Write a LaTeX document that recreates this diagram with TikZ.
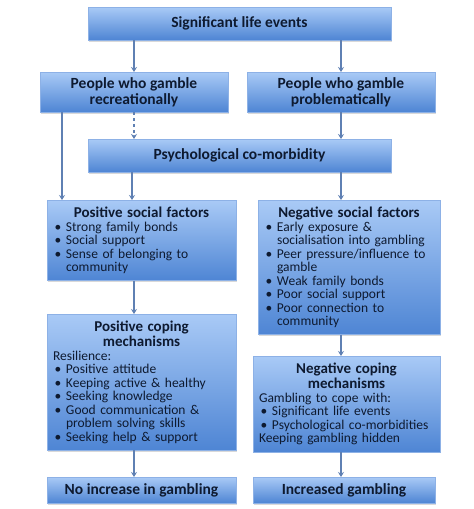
\documentclass[tikz,border=0pt]{standalone}
\usepackage{fontspec}
\setmainfont{Carlito}
\usetikzlibrary{shadows, arrows.meta, calc, positioning}
\definecolor{boxtop}{HTML}{A9CAF6}
\definecolor{boxbot}{HTML}{4E85D4}
\definecolor{boxline}{HTML}{8DB1E6}
\definecolor{arrcol}{HTML}{5F80B3}
\definecolor{ink}{HTML}{0E1A30}
\hyphenpenalty=10000
\exhyphenpenalty=10000
\newcommand*{\itm}[1]{\par\hangindent=13pt\hangafter=1\noindent\makebox[13pt][l]{\hspace{1.5pt}\textbullet}#1\par}
\newcommand*{\hd}[1]{{\centering\bfseries\fontsize{15}{15}\selectfont #1\par}}

\begin{document}
\begin{tikzpicture}[x=1pt, y=-1pt,
  box/.style={draw=boxline, line width=0.6pt, top color=boxtop, bottom color=boxbot,
    drop shadow={opacity=0.3, shadow xshift=1.2pt, shadow yshift=-1.5pt},
    text=ink, inner xsep=6pt, inner ysep=7pt, outer sep=0pt},
  titlebox/.style={box, font=\bfseries\fontsize{15.5}{16}\selectfont, align=center, inner ysep=4pt},
  listbox/.style={box, font=\fontsize{13.5}{13.5}\selectfont, align=left, anchor=north},
  arr/.style={draw=arrcol, line width=1.3pt, -{Stealth[length=5pt, width=6pt]}}]
 \useasboundingbox (0,0) rectangle (474,509);

 \node[titlebox, minimum width=303pt, minimum height=33pt] (life) at (239.5,23.5) {Significant life events};
 \node[titlebox, minimum width=188pt, minimum height=40pt] (rec) at (134,92) {People who gamble\\recreationally};
 \node[titlebox, minimum width=188pt, minimum height=40pt] (prob) at (341,92) {People who gamble\\problematically};
 \node[titlebox, minimum width=303pt, minimum height=33pt] (psych) at (239.5,155.5) {Psychological co-morbidity};

 \node[listbox, text width=177pt, minimum height=78pt] (possoc) at (141.5,200) {%
  \hd{Positive social factors}
  \itm{Strong family bonds}
  \itm{Social support}
  \itm{Sense of belonging to community}};
 \node[listbox, text width=170pt, minimum height=130pt] (negsoc) at (349,200) {%
  \hd{Negative social factors}
  \itm{Early exposure \& socialisation into gambling}
  \itm{Peer pressure/influence to gamble}
  \itm{Weak family bonds}
  \itm{Poor social support}
  \itm{Poor connection to community}};
 \node[listbox, text width=177pt, minimum height=132pt] (poscop) at (141.5,314) {%
  \hd{Positive coping\\mechanisms}
  \noindent Resilience:
  \itm{Positive attitude}
  \itm{Keeping active \& healthy}
  \itm{Seeking knowledge}
  \itm{Good communication \& problem solving skills}
  \itm{Seeking help \& support}};
 \node[listbox, text width=175pt, minimum height=91pt] (negcop) at (346.5,356) {%
  \hd{Negative coping\\mechanisms}
  \noindent Gambling to cope with:
  \itm{Significant life events}
  \itm{Psychological co-morbidities}
  \noindent Keeping gambling hidden};

 \node[titlebox, minimum width=189pt, minimum height=26pt] (noinc) at (141.5,490) {No increase in gambling};
 \node[titlebox, minimum width=182pt, minimum height=26pt] (inc) at (344,490) {Increased gambling};

 \draw[arr] (life.south -| rec.north) -- (rec.north);
 \draw[arr] (life.south -| prob.north) -- (prob.north);
 \draw[arr, dashed] (rec.south) -- (rec.south |- psych.north);
 \draw[arr] (prob.south) -- (prob.south |- psych.north);
 \draw[arr] ([xshift=22pt]rec.south west) -- ([xshift=22pt]rec.south west |- possoc.north);
 \draw[arr] ([xshift=44pt]psych.south west) -- ([xshift=44pt]psych.south west |- possoc.north);
 \draw[arr] (psych.south -| prob.south) -- (prob.south |- negsoc.north);
 \draw[arr] (possoc.south -| rec.south) -- (rec.south |- poscop.north);
 \draw[arr] (negsoc.south -| prob.south) -- (prob.south |- negcop.north);
 \draw[arr] (poscop.south -| rec.south) -- (rec.south |- noinc.north);
 \draw[arr] (negcop.south -| prob.south) -- (prob.south |- inc.north);
\end{tikzpicture}
\end{document}
